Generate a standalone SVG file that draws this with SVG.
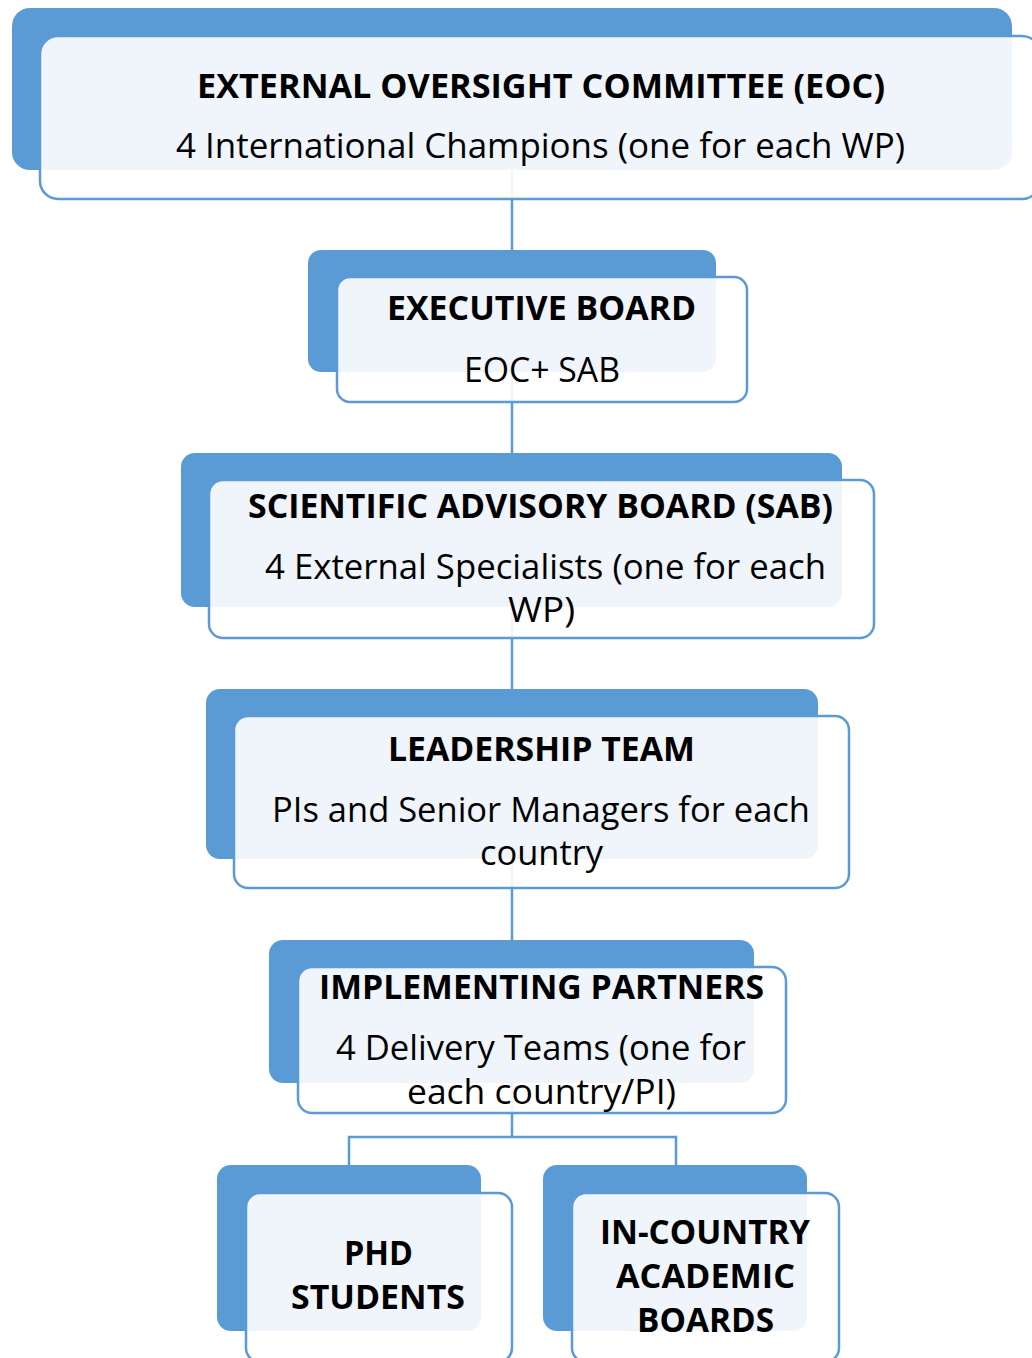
<svg xmlns="http://www.w3.org/2000/svg" width="1032" height="1358" viewBox="0 0 1032 1358">
<style>
.back{fill:#5B9BD5;}
.front{fill:#FFFFFF;fill-opacity:0.9;stroke:#5B9BD5;stroke-width:2.5;}
.conn{fill:none;stroke:#5B9BD5;stroke-width:2.5;}
.t{font-family:"Open Sans","Liberation Sans",sans-serif;font-size:34px;font-weight:bold;fill:#000;}
.s{font-family:"Open Sans","Liberation Sans",sans-serif;font-size:34px;fill:#000;}
</style>
<rect width="1032" height="1358" fill="#FFFFFF"/>
<g id="connectors">
<path class="conn" d="M512,170 V1137"/>
<path class="conn" d="M349,1165 V1137 H676 V1165"/>
</g>
<g id="eoc">
<rect class="back" x="12" y="8" width="1000" height="162" rx="18"/>
<rect class="front" x="40" y="36" width="1000" height="163" rx="18"/>
<text class="t" x="197" y="98" textLength="688" lengthAdjust="spacingAndGlyphs">EXTERNAL OVERSIGHT COMMITTEE (EOC)</text>
<text class="s" x="176" y="158" textLength="729" lengthAdjust="spacingAndGlyphs">4 International Champions (one for each WP)</text>
</g>
<g id="executive">
<rect class="back" x="308" y="250" width="408" height="122" rx="13"/>
<rect class="front" x="337" y="277" width="410" height="125" rx="13"/>
<text class="t" x="387" y="320" textLength="309" lengthAdjust="spacingAndGlyphs">EXECUTIVE BOARD</text>
<text class="s" x="464" y="382" textLength="156" lengthAdjust="spacingAndGlyphs">EOC+ SAB</text>
</g>
<g id="sab">
<rect class="back" x="181" y="453" width="661" height="154" rx="14"/>
<rect class="front" x="209" y="480" width="665" height="158" rx="14"/>
<text class="t" x="248" y="518" textLength="585" lengthAdjust="spacingAndGlyphs">SCIENTIFIC ADVISORY BOARD (SAB)</text>
<text class="s" x="265" y="579" textLength="561" lengthAdjust="spacingAndGlyphs">4 External Specialists (one for each</text>
<text class="s" x="508" y="622" textLength="67" lengthAdjust="spacingAndGlyphs">WP)</text>
</g>
<g id="leadership">
<rect class="back" x="206" y="689" width="612" height="170" rx="14"/>
<rect class="front" x="234" y="716" width="615" height="172" rx="14"/>
<text class="t" x="388" y="761" textLength="307" lengthAdjust="spacingAndGlyphs">LEADERSHIP TEAM</text>
<text class="s" x="272" y="822" textLength="538" lengthAdjust="spacingAndGlyphs">PIs and Senior Managers for each</text>
<text class="s" x="480" y="865" textLength="123" lengthAdjust="spacingAndGlyphs">country</text>
</g>
<g id="implementing">
<rect class="back" x="269" y="940" width="485" height="143" rx="14"/>
<rect class="front" x="298" y="967" width="488" height="146" rx="14"/>
<text class="t" x="319" y="999" textLength="445" lengthAdjust="spacingAndGlyphs">IMPLEMENTING PARTNERS</text>
<text class="s" x="336" y="1060" textLength="410" lengthAdjust="spacingAndGlyphs">4 Delivery Teams (one for</text>
<text class="s" x="407" y="1104" textLength="269" lengthAdjust="spacingAndGlyphs">each country/PI)</text>
</g>
<g id="phd">
<rect class="back" x="217" y="1165" width="264" height="166" rx="14"/>
<rect class="front" x="246" y="1193" width="266" height="169" rx="14"/>
<text class="t" x="344" y="1265" textLength="69" lengthAdjust="spacingAndGlyphs">PHD</text>
<text class="t" x="291" y="1309" textLength="174" lengthAdjust="spacingAndGlyphs">STUDENTS</text>
</g>
<g id="incountry">
<rect class="back" x="543" y="1165" width="264" height="166" rx="14"/>
<rect class="front" x="572" y="1193" width="267" height="169" rx="14"/>
<text class="t" x="600" y="1244" textLength="210" lengthAdjust="spacingAndGlyphs">IN-COUNTRY</text>
<text class="t" x="616" y="1288" textLength="179" lengthAdjust="spacingAndGlyphs">ACADEMIC</text>
<text class="t" x="637" y="1332" textLength="137" lengthAdjust="spacingAndGlyphs">BOARDS</text>
</g>
</svg>
